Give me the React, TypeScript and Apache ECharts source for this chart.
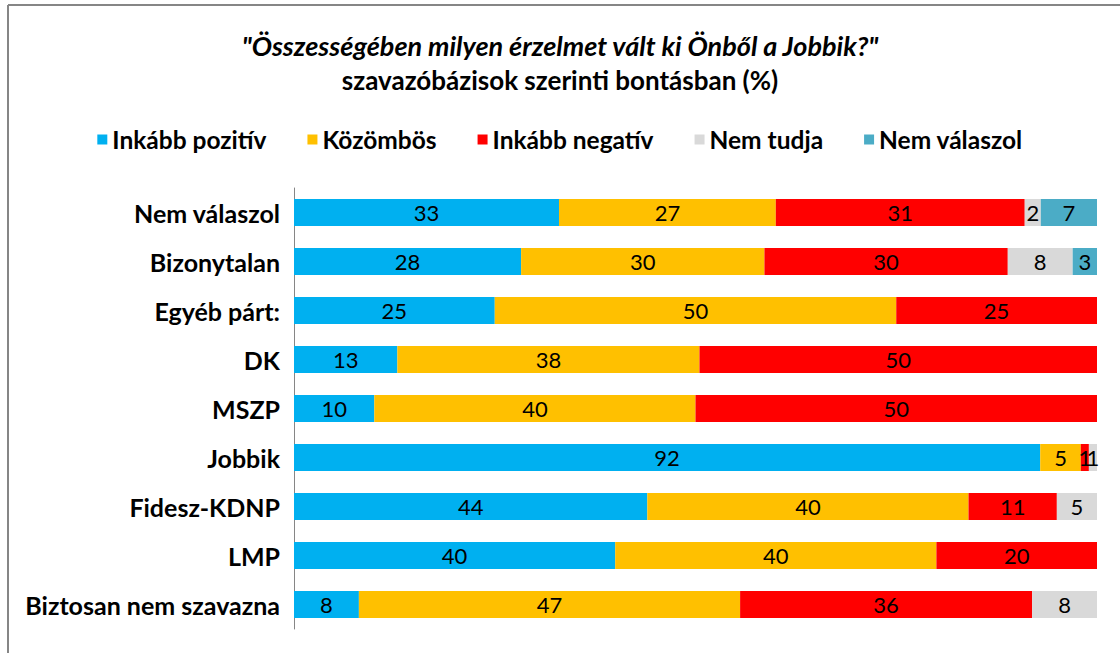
import React, { useEffect, useRef } from "react";
import * as echarts from "echarts";

const categories = [
  "Nem válaszol",
  "Bizonytalan",
  "Egyéb párt:",
  "DK",
  "MSZP",
  "Jobbik",
  "Fidesz-KDNP",
  "LMP",
  "Biztosan nem szavazna",
];
const seriesNames = ["Inkább pozitív", "Közömbös", "Inkább negatív", "Nem tudja", "Nem válaszol"];
const pozitiv = [33, 28, 25, 13, 10, 92, 44, 40, 8];
const kozombos = [27, 30, 50, 38, 40, 5, 40, 40, 47];
const negativ = [31, 30, 25, 50, 50, 1, 11, 20, 36];
const nemTudja = [2, 8, 0, 0, 0, 1, 5, 0, 8];
const nemValaszol = [7, 3, 0, 0, 0, 0, 0, 0, 0];
const colors = ["#00B0F0", "#FFC000", "#FF0000", "#D9D9D9", "#4BACC6"];

const FONT = "Lato";

export default function App() {
  const ref = useRef<HTMLDivElement>(null);
  useEffect(() => {
    if (!ref.current) return;
    const chart = echarts.init(ref.current, null, { renderer: "svg" });
    const all = [pozitiv, kozombos, negativ, nemTudja, nemValaszol];
    const sums = categories.map((_, i) => all.reduce((s, a) => s + a[i], 0));
    const series = all.map((arr, si) => ({
      name: seriesNames[si],
      type: "bar",
      stack: "total",
      barWidth: 27,
      itemStyle: { color: colors[si] },
      label: {
        show: true,
        position: "inside",
        color: "#000",
        fontFamily: FONT,
        fontSize: 22,
        formatter: (p: any) => (p.data && p.data.raw ? String(p.data.raw) : ""),
      },
      labelLayout: { hideOverlap: false },
      data: arr.map((v, i) => ({ value: v ? (v / sums[i]) * 100 : 0, raw: v })),
    }));
    chart.setOption({
      animation: false,
      textStyle: { fontFamily: FONT },
      title: [
        {
          text: '"Összességében milyen érzelmet vált ki Önből a Jobbik?"',
          left: "center",
          top: 27,
          textStyle: { fontFamily: FONT, fontSize: 27, fontStyle: "italic", fontWeight: "bold", color: "#000" },
        },
        {
          text: "szavazóbázisok szerinti bontásban (%)",
          left: "center",
          top: 62,
          textStyle: { fontFamily: FONT, fontSize: 26, fontWeight: "bold", color: "#000" },
        },
      ],
      legend: {
        top: 122,
        left: "center",
        itemWidth: 10,
        itemHeight: 10,
        itemGap: 41,
        icon: "rect",
        data: seriesNames,
        textStyle: { fontFamily: FONT, fontSize: 24.5, fontWeight: "bold", color: "#000", padding: [0, 0, 0, 0] },
      },
      grid: { left: 294, right: 23, top: 188, height: 441, containLabel: false },
      xAxis: {
        type: "value",
        min: 0,
        max: 100,
        show: false,
      },
      yAxis: {
        type: "category",
        inverse: true,
        data: categories,
        axisLine: { show: true, lineStyle: { color: "#868686", width: 1 } },
        axisTick: { show: false },
        axisLabel: { fontFamily: FONT, fontSize: 25, fontWeight: "bold", color: "#000", margin: 14 },
      },
      graphic: [
        { type: "line", shape: { x1: 8, y1: 5, x2: 1120, y2: 5 }, style: { stroke: "#868686", lineWidth: 2 } },
        { type: "line", shape: { x1: 8, y1: 5, x2: 8, y2: 653 }, style: { stroke: "#868686", lineWidth: 2 } },
      ],
      series,
    });
    return () => chart.dispose();
  }, []);
  return (
    <div
      ref={ref}
      style={{ position: "fixed", left: 0, top: 0, width: 1120, height: 653, background: "#fff" }}
    />
  );
}
